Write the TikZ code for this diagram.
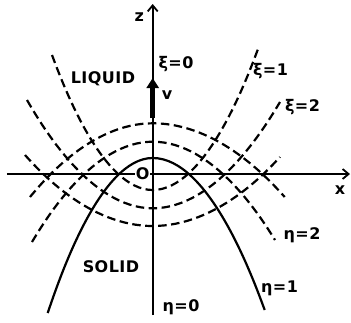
\documentclass[tikz,border=0pt]{standalone}
\usepackage{fontspec}
\usepackage{tikz}
\usetikzlibrary{arrows.meta}
\setmainfont{DejaVu Sans}
\newfontfamily\lettering[LetterSpace=3]{DejaVu Sans}
\definecolor{ink}{RGB}{0, 0, 0}
\tikzset{
    axis/.style={line width=2pt, ink, -{Straight Barb[length=6pt,width=10pt,line width=1.8pt]}},
    curve/.style={line width=2.2pt, ink},
    dcurve/.style={curve, dash pattern=on 8.5pt off 4.5pt},
    velo/.style={line width=5pt, ink, -{Triangle[length=10pt,width=12pt]}},
    lbl/.style={font=\lettering\bfseries\fontsize{16}{18}\selectfont, inner sep=1pt, text=ink}
}

\begin{document}
\begin{tikzpicture}[x=1pt, y=1pt]
    \useasboundingbox (-152.7,-148) rectangle (198.3,174);
    \coordinate (xl) at (-145.7,0); \coordinate (xr) at (197.3,0);
    \coordinate (zb) at (0,-141); \coordinate (zt) at (0,170);
    \coordinate (vb) at (0,56); \coordinate (vt) at (0,96);
    \draw[axis] (xl)--(xr); \draw[axis] (zb)--(zt);
    \draw[velo] (vb)--(vt);
    \draw[curve] (-105,-139) parabola bend (0,16) (112,-136);
    \draw[dcurve] (-120.7,-68) parabola bend (0,32.3) (122.3,-66);
    \draw[dcurve] (-122.7,-23) parabola bend (0,50.7) (132,-23);
    \draw[dcurve] (-100.7,119) parabola bend (0,-16) (105.3,125);
    \draw[dcurve] (-125.7,74) parabola bend (0,-34.3) (127.3,72);
    \draw[dcurve] (-127.7,19) parabola bend (0,-52) (127.3,17);
    \node[lbl, fill=white, inner sep=0.5pt] (orig) at (-10,0) {O};
    \node[lbl] (zlbl) at (-13.5,157) {z};
    \node[lbl] (xlbl) at (187.3,-16) {x};
    \node[lbl] (vlbl) at (14.3,79) {v};
    \node[lbl] (xi0) at (23.3,110) {ξ=0};
    \node[lbl] (xi1) at (117.8,103) {ξ=1};
    \node[lbl] (xi2) at (149.8,67) {ξ=2};
    \node[lbl] (eta0) at (28.3,-133) {η=0};
    \node[lbl] (eta1) at (126.8,-114) {η=1};
    \node[lbl] (eta2) at (149.3,-61) {η=2};
    \node[lbl] (liq) at (-49.7,95) {LIQUID};
    \node[lbl] (sol) at (-41.7,-93) {SOLID};
\end{tikzpicture}
\end{document}
